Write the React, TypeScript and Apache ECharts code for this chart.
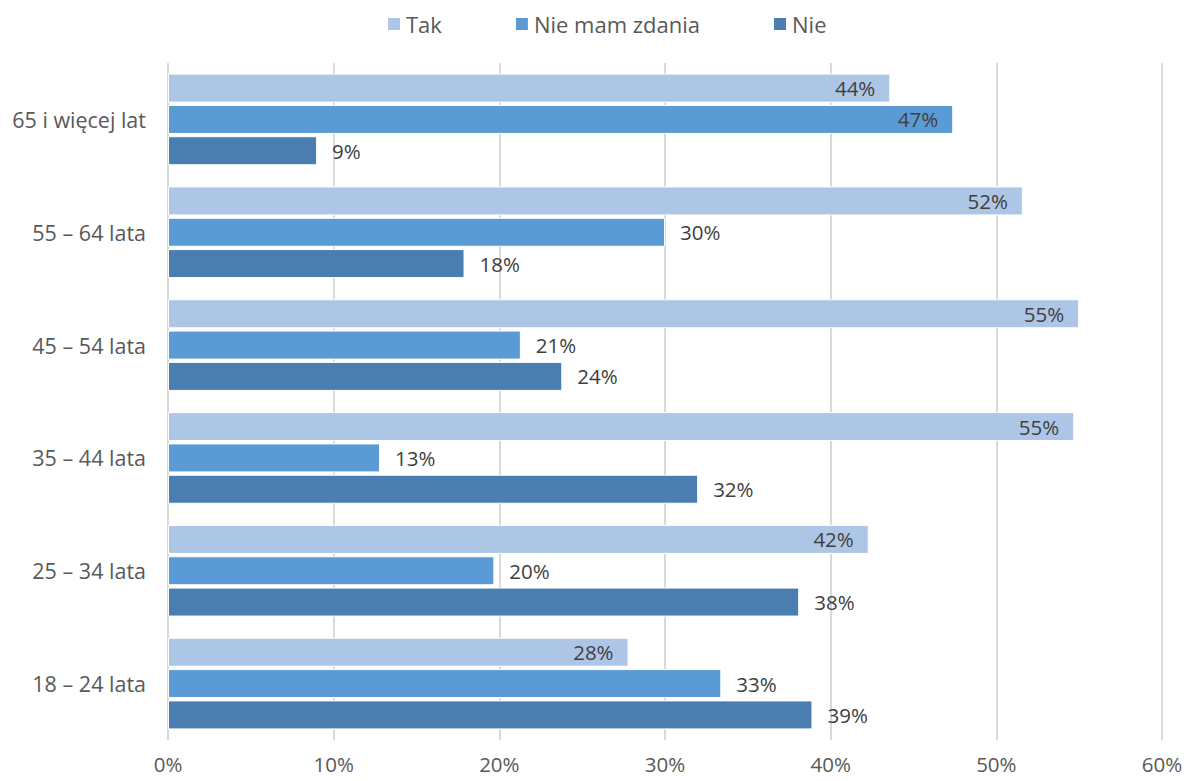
import React, { useEffect, useRef } from "react";
import * as echarts from "echarts";

const categories = ["18 – 24 lata", "25 – 34 lata", "35 – 44 lata", "45 – 54 lata", "55 – 64 lata", "65 i więcej lat"];
const seriesNames = ["Tak", "Nie mam zdania", "Nie"];
const takValues = [27.8, 42.3, 54.7, 55.0, 51.6, 43.6];
const nmzValues = [33.4, 19.7, 12.8, 21.3, 30.0, 47.4];
const nieValues = [38.9, 38.1, 32.0, 23.8, 17.9, 9.0];
const insideFlags = [
  [true, true, true, true, true, true],
  [false, false, false, false, false, true],
  [false, false, false, false, false, false],
];
const xTicks = [0, 10, 20, 30, 40, 50, 60];
const colors = ["#aec6e6", "#5b9bd5", "#4a7eb0"];

export default function App() {
  const ref = useRef<HTMLDivElement>(null);
  useEffect(() => {
    const chart = echarts.init(ref.current!, undefined, { renderer: "svg" });
    const all = [takValues, nmzValues, nieValues];
    const font = "'Open Sans', 'Noto Sans', sans-serif";
    chart.setOption({
      animation: false,
      textStyle: { fontFamily: font },
      legend: {
        top: 8,
        left: 381,
        itemWidth: 14,
        itemHeight: 14,
        itemGap: 72,
        icon: "rect",
        textStyle: { fontSize: 22, color: "#595959", fontFamily: font },
        data: seriesNames,
      },
      grid: { left: 168, right: 26, top: 63, bottom: 41, containLabel: false },
      xAxis: {
        type: "value",
        min: xTicks[0],
        max: xTicks[xTicks.length - 1],
        interval: 10,
        axisLine: { show: false },
        axisTick: { show: false },
        splitLine: { show: true, lineStyle: { color: "#d9d9d9", width: 2 } },
        axisLabel: { formatter: "{value}%", fontSize: 20.5, color: "#595959", margin: 13, fontFamily: font },
      },
      yAxis: {
        type: "category",
        data: categories,
        axisLine: { show: false },
        axisTick: { show: false },
        axisLabel: { fontSize: 21.5, color: "#595959", margin: 22, fontFamily: font },
      },
      series: seriesNames.map((name, si) => ({
        name,
        type: "bar",
        barWidth: 29,
        barGap: "8%",
        barCategoryGap: "19%",
        itemStyle: { color: colors[si], borderColor: "#ffffff", borderWidth: 1 },
        data: all[si].map((v, i) => ({
          value: v,
          label: insideFlags[si][i]
            ? { position: "insideRight", distance: 15 }
            : { position: "right", distance: 15 },
        })),
        label: {
          show: true,
          fontSize: 20.5,
          color: "#404040",
          fontFamily: font,
          formatter: (p: any) => Math.round(p.value) + "%",
        },
      })),
    });
    return () => chart.dispose();
  }, []);
  return <div ref={ref} style={{ width: 1188, height: 781, position: "absolute", left: 0, top: 0 }} />;
}
